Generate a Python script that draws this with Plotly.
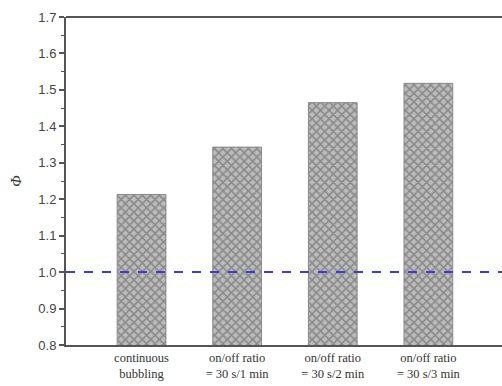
import plotly.graph_objects as go

categories = ["continuous<br>bubbling", "on/off ratio<br>= 30 s/1 min",
              "on/off ratio<br>= 30 s/2 min", "on/off ratio<br>= 30 s/3 min"]
phi_values = [1.213, 1.343, 1.465, 1.518]
reference_level = 1.0
y_ticks = [0.8, 0.9, 1.0, 1.1, 1.2, 1.3, 1.4, 1.5, 1.6, 1.7]

fig = go.Figure()
fig.add_trace(go.Bar(
    x=list(range(len(categories))), y=phi_values, width=0.51,
    marker=dict(color="#a0a0a0",
                line=dict(color="#8a8a8a", width=1),
                pattern=dict(shape="x", fgcolor="#555555", bgcolor="#bcbcbc",
                             size=6, solidity=0.45)),
    showlegend=False,
))
fig.add_shape(type="line", xref="paper", yref="y", x0=0, x1=1,
              y0=reference_level, y1=reference_level,
              line=dict(color="#3b3bd6", width=2, dash="dash"))
fig.add_shape(type="line", xref="paper", yref="paper", x0=0, x1=1.02, y0=1, y1=1,
              line=dict(color="#555555", width=2), layer="above")

fig.update_layout(
    width=502, height=386,
    margin=dict(l=66, r=0, t=17, b=41),
    plot_bgcolor="white", paper_bgcolor="white",
    bargap=0.5,
)
fig.update_xaxes(
    range=[-0.79, 3.77], tickmode="array",
    tickvals=list(range(len(categories))), ticktext=categories,
    showgrid=False, zeroline=False,
    showline=True, linecolor="#555555", linewidth=2,
    ticks="", tickfont=dict(family="Liberation Serif", size=12.5, color="#333333"),
)
fig.update_yaxes(
    range=[0.8, 1.7], tickmode="array", tickvals=y_ticks,
    ticktext=[f"{v:.1f}" for v in y_ticks],
    showgrid=False, zeroline=False,
    showline=True, linecolor="#555555", linewidth=2,
    ticks="outside", ticklen=5, tickwidth=1.5, tickcolor="#555555",
    minor=dict(dtick=0.05, ticks="outside", ticklen=3, tickwidth=1.2, tickcolor="#555555", tick0=0.8),
    tickfont=dict(family="Liberation Sans", size=13, color="#444444"),
    title=dict(text="<i>Φ</i>", font=dict(family="Liberation Serif", size=15, color="#333333"), standoff=13),
)
fig.write_html("out.html", config={"displayModeBar": False},
               post_script="document.body.style.margin='0';document.body.style.overflow='hidden';")
